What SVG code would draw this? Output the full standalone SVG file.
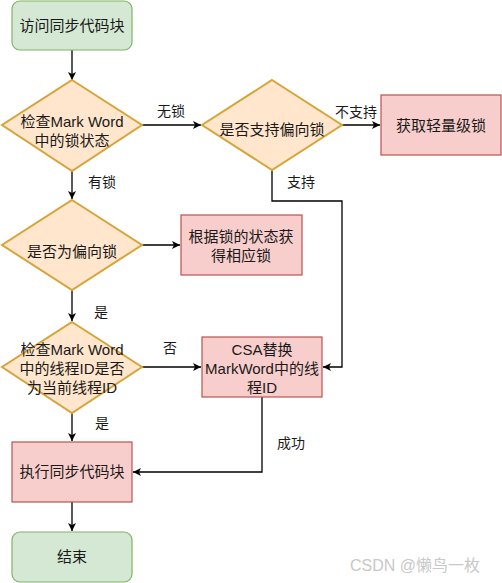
<svg xmlns="http://www.w3.org/2000/svg" width="502" height="583" viewBox="0 0 502 583">
<defs>
<marker id="arr" markerWidth="10" markerHeight="10" refX="9" refY="5" orient="auto" markerUnits="userSpaceOnUse">
<path d="M1,1 L9,5 L1,9 L3,5 Z" fill="#000"/>
</marker>
<style>
text{font-family:"Liberation Sans","Noto Sans CJK SC",sans-serif;fill:#1a1a1a;}
.n{font-size:15px;text-anchor:middle;}
.l{font-size:14px;}
.green{fill:#d5e8d4;stroke:#82b366;stroke-width:1.2;}
.red{fill:#f8cecc;stroke:#b85450;stroke-width:1.2;}
.dia{fill:#ffe6cc;stroke:#d6a53a;stroke-width:2;}
.c{fill:none;stroke:#000;stroke-width:1.3;marker-end:url(#arr);}
</style>
</defs>
<rect width="502" height="583" fill="#fff"/>
<g id="connectors">
<path class="c" d="M72,50 L72,80"/>
<path class="c" d="M142,125 L201,125"/>
<path class="c" d="M342,125 L380,125"/>
<path class="c" d="M272,170 L272,201 L342,201 L342,367 L323,367"/>
<path class="c" d="M72,171 L72,199"/>
<path class="c" d="M142,245 L180,245"/>
<path class="c" d="M72,290 L72,321"/>
<path class="c" d="M142,367 L201,367"/>
<path class="c" d="M262,397 L262,472 L133,472"/>
<path class="c" d="M72,413 L72,441"/>
<path class="c" d="M72,502 L72,531"/>
<text class="l" x="157" y="116">无锁</text>
<text class="l" x="335" y="117">不支持</text>
<text class="l" x="287" y="187">支持</text>
<text class="l" x="88" y="187">有锁</text>
<text class="l" x="94" y="317">是</text>
<text class="l" x="163" y="353">否</text>
<text class="l" x="95" y="428">是</text>
<text class="l" x="277" y="448">成功</text>
</g>
<g id="start">
<rect class="green" x="12" y="1" width="120" height="49" rx="8"/>
<text class="n" x="72" y="31">访问同步代码块</text>
</g>
<g id="check-mark-word">
<polygon class="dia" points="72,80 142,125 72,171 2,125"/>
<text class="n" x="72" y="127">检查Mark Word</text>
<text class="n" x="72" y="146">中的锁状态</text>
</g>
<g id="support-biased">
<polygon class="dia" points="272,80 342,125 272,170 202,125"/>
<text class="n" x="272" y="135">是否支持偏向锁</text>
</g>
<g id="lightweight">
<rect class="red" x="381" y="95" width="120" height="60"/>
<text class="n" x="441" y="131">获取轻量级锁</text>
</g>
<g id="is-biased">
<polygon class="dia" points="72,200 142,245 72,290 2,245"/>
<text class="n" x="72" y="257">是否为偏向锁</text>
</g>
<g id="by-state">
<rect class="red" x="181" y="215" width="121" height="60"/>
<text class="n" x="241" y="242">根据锁的状态获</text>
<text class="n" x="241" y="261">得相应锁</text>
</g>
<g id="check-thread-id">
<polygon class="dia" points="72,322 142,367 72,413 2,367"/>
<text class="n" x="72" y="355">检查Mark Word</text>
<text class="n" x="72" y="374">中的线程ID是否</text>
<text class="n" x="72" y="393">为当前线程ID</text>
</g>
<g id="csa">
<rect class="red" x="202" y="337" width="120" height="60"/>
<text class="n" x="262" y="355">CSA替换</text>
<text class="n" x="262" y="374">MarkWord中的线</text>
<text class="n" x="262" y="393">程ID</text>
</g>
<g id="exec">
<rect class="red" x="12" y="442" width="120" height="60"/>
<text class="n" x="72" y="477">执行同步代码块</text>
</g>
<g id="end">
<rect class="green" x="12" y="532" width="120" height="50" rx="8"/>
<text class="n" x="72" y="562">结束</text>
</g>
<text x="350" y="571" style="font-size:16px;fill:#c8c8c8;">CSDN @懒鸟一枚</text>
</svg>
